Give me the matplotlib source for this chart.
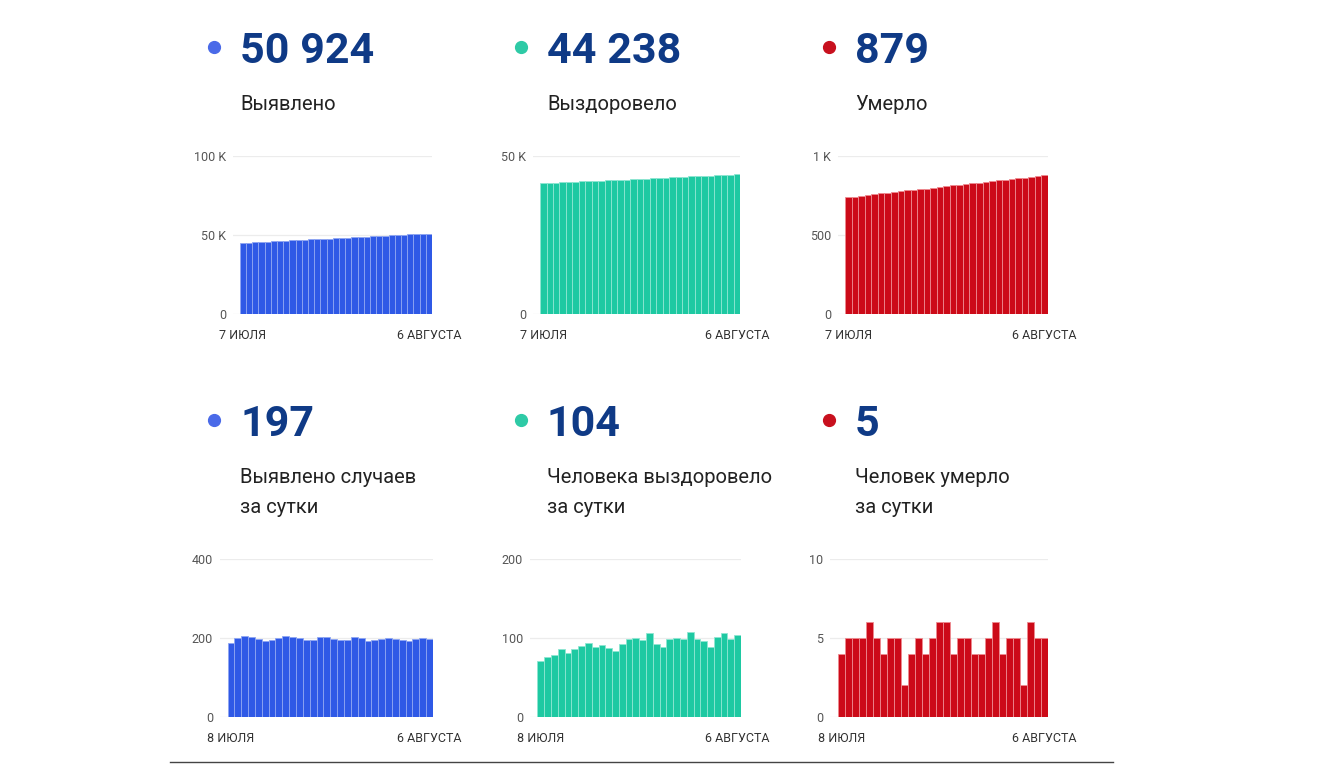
import matplotlib
matplotlib.use('Agg')
import matplotlib.pyplot as plt
from matplotlib.lines import Line2D

plt.rcParams['font.family'] = ['Roboto', 'DejaVu Sans']

W, H = 1318, 769

# cumulative totals, 7 July .. 6 August
total_cases = [44984, 45172, 45372, 45577, 45779, 45977, 46170, 46365, 46565, 46771, 46973,
               47173, 47368, 47564, 47767, 47969, 48167, 48362, 48558, 48761, 48961, 49154,
               49348, 49545, 49744, 49942, 50138, 50330, 50527, 50727, 50924]
total_recovered = [41452, 41523, 41599, 41678, 41764, 41845, 41931, 42021, 42115, 42203, 42294,
                   42381, 42465, 42557, 42656, 42756, 42854, 42960, 43052, 43140, 43239, 43339,
                   43438, 43545, 43644, 43740, 43828, 43929, 44035, 44134, 44238]
total_deaths = [738, 742, 747, 752, 757, 763, 768, 772, 777, 782, 784, 788, 793, 797, 802, 808,
                814, 818, 823, 828, 832, 836, 841, 847, 851, 856, 861, 863, 869, 874, 879]

# daily numbers, 8 July .. 6 August
daily_cases = [188, 200, 205, 202, 198, 193, 195, 200, 206, 202, 200, 195, 196, 203, 202,
               198, 195, 196, 203, 200, 193, 194, 197, 199, 198, 196, 192, 197, 200, 197]
daily_recovered = [71, 76, 79, 86, 81, 86, 90, 94, 88, 91, 87, 84, 92, 99, 100,
                   98, 106, 92, 88, 99, 100, 99, 107, 99, 96, 88, 101, 106, 99, 104]
daily_deaths = [4, 5, 5, 5, 6, 5, 4, 5, 5, 2, 4, 5, 4, 5, 6,
                6, 4, 5, 5, 4, 4, 5, 6, 4, 5, 5, 2, 6, 5, 5]

top_numbers = ['50 924', '44 238', '879']
top_labels = ['Выявлено', 'Выздоровело', 'Умерло']
bottom_numbers = ['197', '104', '5']
bottom_labels = [('Выявлено случаев', 'за сутки'),
                 ('Человека выздоровело', 'за сутки'),
                 ('Человек умерло', 'за сутки')]

top_dates = ['7 ИЮЛЯ', '6 АВГУСТА']
bottom_dates = ['8 ИЮЛЯ', '6 АВГУСТА']

top_yticks = [([0, 50000, 100000], ['0', '50 K', '100 K']),
              ([0, 50000], ['0', '50 K']),
              ([0, 500, 1000], ['0', '500', '1 K'])]
bottom_yticks = [([0, 200, 400], ['0', '200', '400']),
                 ([0, 100, 200], ['0', '100', '200']),
                 ([0, 5, 10], ['0', '5', '10'])]

bar_colors = ['#2f59e6', '#1ec9a2', '#cc0a18']
gap_colors = ['#8fa6f2', '#8fe6d2', '#ee8a90']
dot_colors = ['#4a6ae8', '#2ecaa6', '#c8101e']
navy = '#0f3a86'

fig = plt.figure(figsize=(W / 100, H / 100), dpi=100)
fig.patch.set_facecolor('white')


def px_axes(x0, x1, ytop, ybot):
    return fig.add_axes([x0 / W, 1 - ybot / H, (x1 - x0) / W, (ybot - ytop) / H])


def draw_bars(ax, values, color, gap, yticks, dates):
    n = len(values)
    ax.bar(range(n), values, width=1.0, color=color, edgecolor=gap, linewidth=0.6)
    ticks, labels = yticks
    ax.set_ylim(0, ticks[-1])
    ax.set_xlim(-1.6, n - 0.5)
    ax.set_yticks(ticks)
    ax.set_yticklabels(labels)
    for t in ticks:
        ax.axhline(t, color='#ececec', lw=0.9, zorder=0)
    ax.set_xticks([0, n - 1])
    ax.set_xticklabels(dates)
    ax.tick_params(axis='y', length=0, pad=5, labelsize=9, labelcolor='#555555')
    ax.tick_params(axis='x', length=0, pad=11, labelsize=9, labelcolor='#333333')
    for s in ax.spines.values():
        s.set_visible(False)
    ax.set_facecolor('none')


top_x = [(233, 432), (533, 740), (838, 1048)]
bottom_x = [(220, 433), (530, 741), (830, 1048)]
top_data = [total_cases, total_recovered, total_deaths]
bottom_data = [daily_cases, daily_recovered, daily_deaths]

for i in range(3):
    ax = px_axes(top_x[i][0], top_x[i][1], 156, 314)
    draw_bars(ax, top_data[i], bar_colors[i], gap_colors[i], top_yticks[i], top_dates)
    ax = px_axes(bottom_x[i][0], bottom_x[i][1], 559, 717)
    draw_bars(ax, bottom_data[i], bar_colors[i], gap_colors[i], bottom_yticks[i], bottom_dates)

col_x = [240, 547, 855]
dot_x = [214, 521, 829]
for i in range(3):
    fig.text(col_x[i] / W, 1 - 63 / H, top_numbers[i], fontsize=31, fontweight='bold',
             color=navy, va='baseline', ha='left')
    fig.text(col_x[i] / W, 1 - 110 / H, top_labels[i], fontsize=14.5, color='#222222',
             va='baseline', ha='left')
    fig.text(col_x[i] / W, 1 - 436 / H, bottom_numbers[i], fontsize=31, fontweight='bold',
             color=navy, va='baseline', ha='left')
    fig.text(col_x[i] / W, 1 - 483 / H, bottom_labels[i][0], fontsize=14.5, color='#222222',
             va='baseline', ha='left')
    fig.text(col_x[i] / W, 1 - 513 / H, bottom_labels[i][1], fontsize=14.5, color='#222222',
             va='baseline', ha='left')
    for y in (47, 420):
        fig.add_artist(Line2D([dot_x[i] / W], [1 - y / H], marker='o', markersize=8.5,
                              color=dot_colors[i], linestyle='none'))

fig.add_artist(Line2D([170 / W, 1113 / W], [1 - 762 / H, 1 - 762 / H], color='#444444', lw=1.0))

fig.savefig('out.png', dpi=100)
